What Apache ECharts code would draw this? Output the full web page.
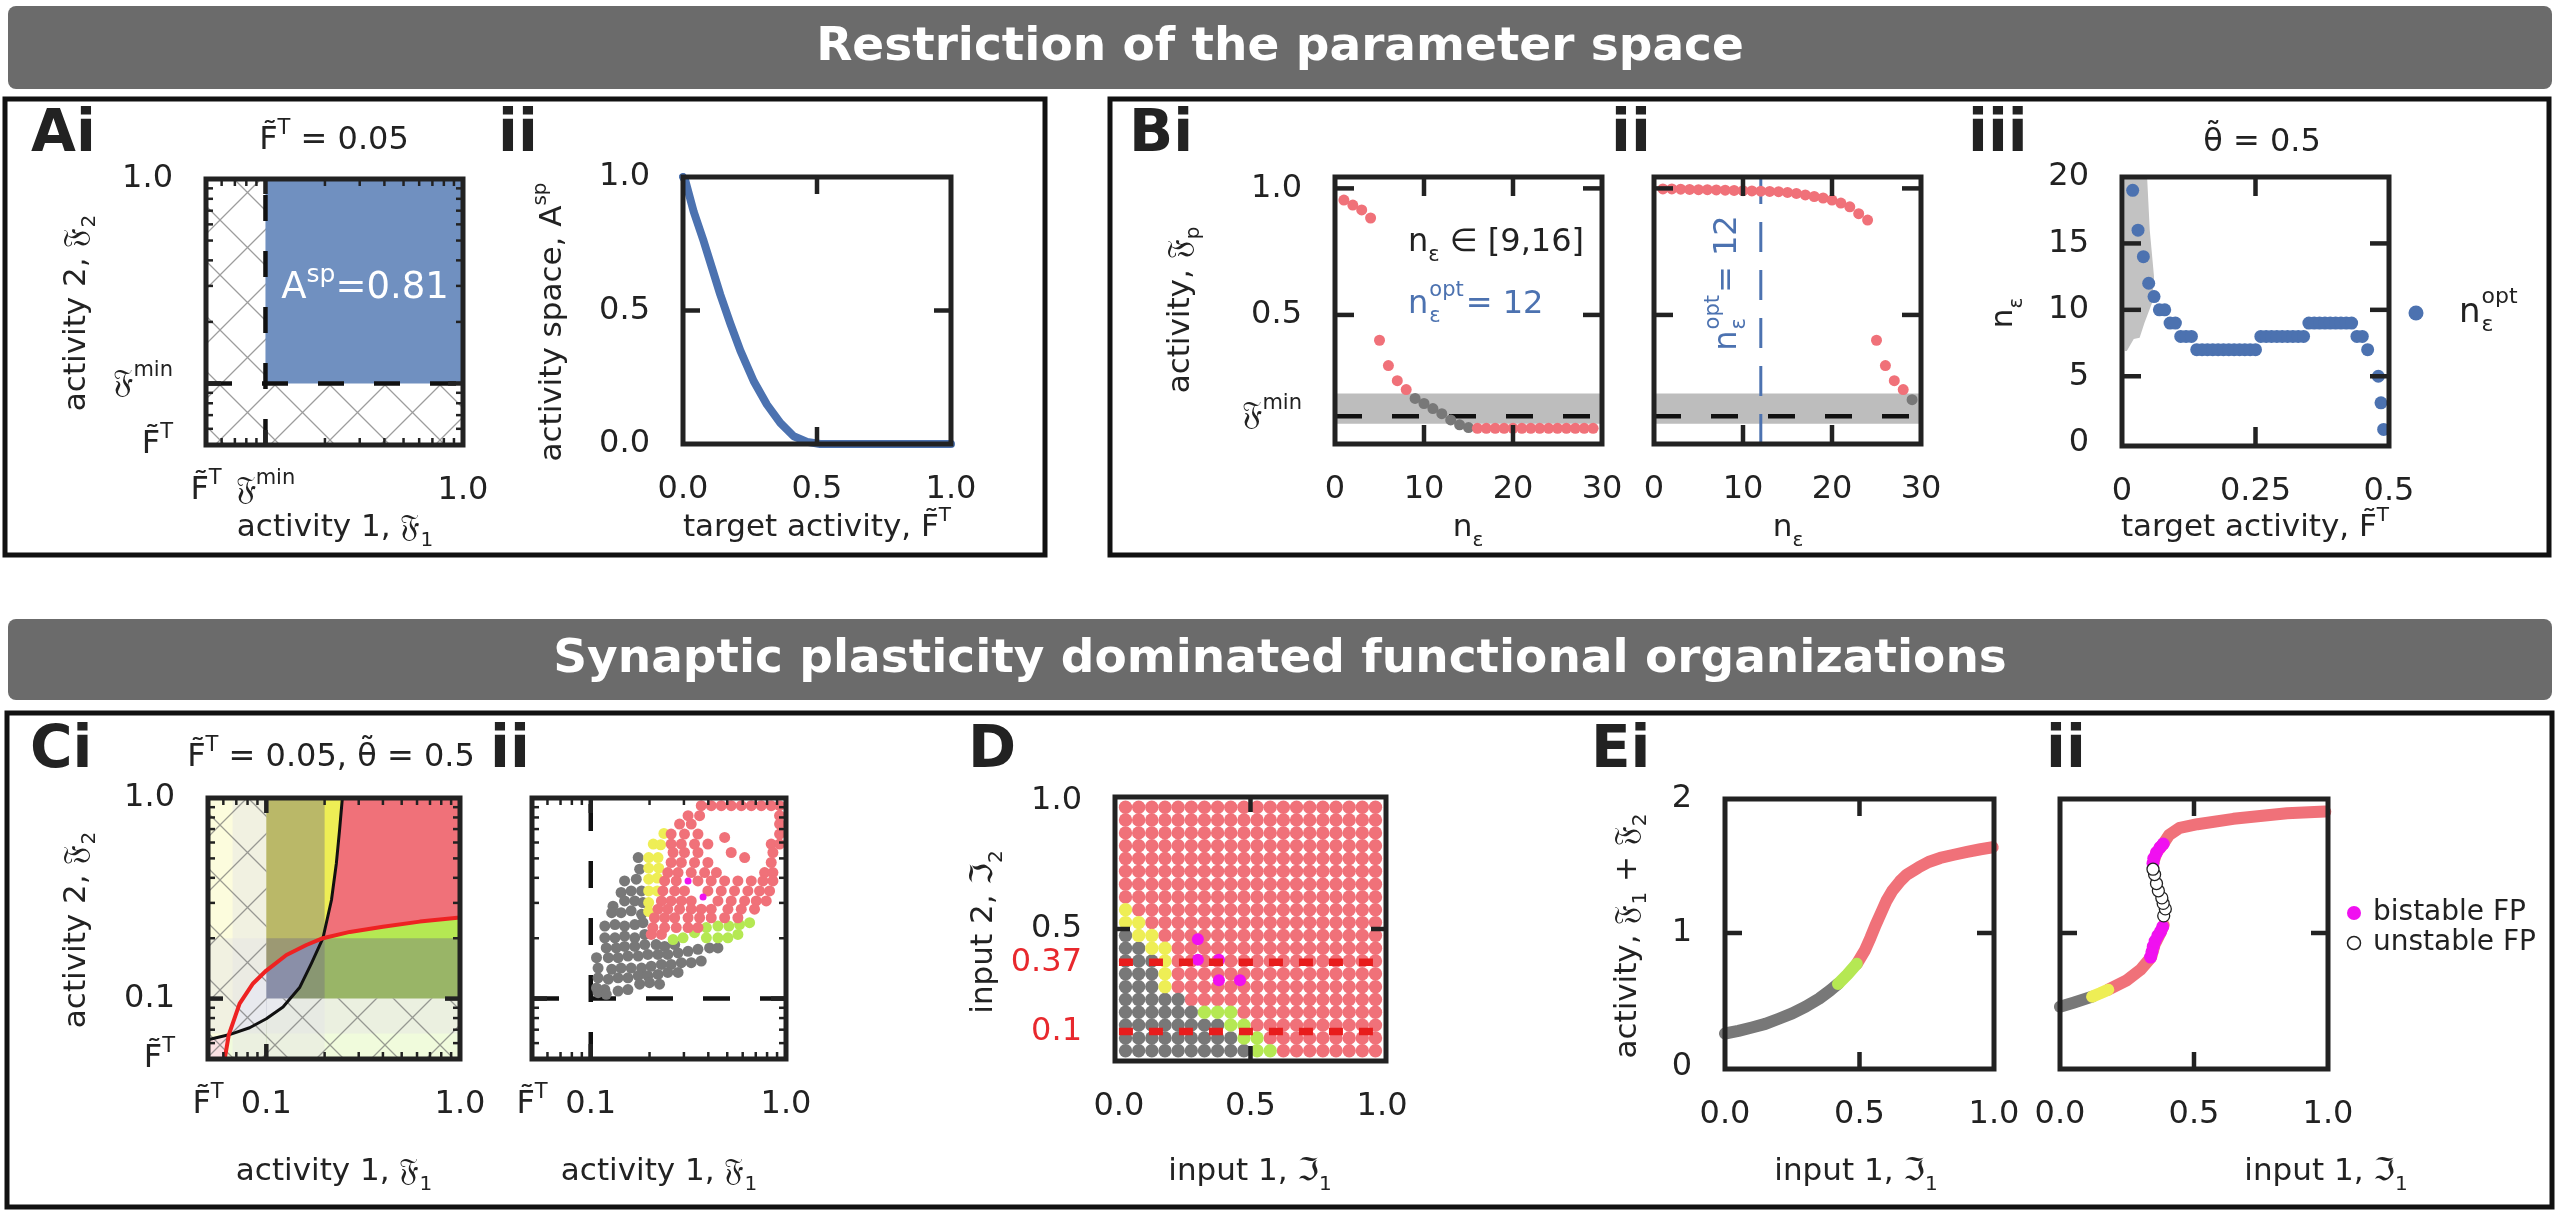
<!DOCTYPE html>
<html><head><meta charset="utf-8"><title>figure</title>
<script src="https://cdn.jsdelivr.net/npm/echarts@6.0.0/dist/echarts.min.js"></script>
<style>html,body{margin:0;padding:0;background:#fff;}#c{width:2560px;height:1214px;}</style>
</head><body><div id="c"></div>
<script>
// ================= DATA =================
const FK = '\u{1D509}', FI = '\u2111', FT = 'F\u0303', THT = '\u03B8\u0303';
const logMinor = [0.06, 0.07, 0.08, 0.09, 0.2, 0.3, 0.4, 0.5, 0.6, 0.7, 0.8, 0.9];
const logMajor = [0.1];

// A i
const aFmin = 0.1;
// A ii : activity space vs target activity
const aiiF = [0, 0.009, 0.04, 0.077, 0.108, 0.139, 0.177, 0.214, 0.264, 0.313, 0.363, 0.413, 0.463, 0.512, 0.75, 1.0];
const aiiA = [1.0, 0.985, 0.87, 0.76, 0.66, 0.56, 0.45, 0.35, 0.235, 0.148, 0.079, 0.029, 0.008, 0.0, 0.0, 0.0];

// B i
const biRedN = [1, 2, 3, 4, 5, 6, 7, 8];
const biRedV = [0.954, 0.934, 0.915, 0.883, 0.40, 0.30, 0.24, 0.205];
const biGrayN = [9, 10, 11, 12, 13, 14, 15];
const biGrayV = [0.17, 0.15, 0.13, 0.11, 0.085, 0.066, 0.055];
const biLowN = [16, 17, 18, 19, 20, 21, 22, 23, 24, 25, 26, 27, 28, 29];
const biLowV = [0.052, 0.052, 0.052, 0.052, 0.052, 0.052, 0.052, 0.052, 0.052, 0.052, 0.052, 0.052, 0.052, 0.052];
const bBand = [0.07, 0.19];
const bFmin = 0.1;
// B ii
const biiRedN = [1, 2, 3, 4, 5, 6, 7, 8, 9, 10, 11, 12, 13, 14, 15, 16, 17, 18, 19, 20, 21, 22, 23, 24];
const biiRedV = [0.998, 0.998, 0.997, 0.996, 0.995, 0.995, 0.994, 0.993, 0.992, 0.991, 0.99, 0.989, 0.988, 0.987, 0.984, 0.98, 0.974, 0.968, 0.962, 0.954, 0.942, 0.927, 0.90, 0.875];
const biiRed2N = [25, 26, 27, 28];
const biiRed2V = [0.40, 0.30, 0.24, 0.205];
const biiGrayN = [29];
const biiGrayV = [0.165];
const biiOpt = 12;
// B iii
const biiiF = [0.02,0.03,0.04,0.05,0.06,0.07,0.08,0.09,0.10,0.11,0.12,0.13,0.14,0.15,0.16,0.17,0.18,0.19,0.20,0.21,0.22,0.23,0.24,0.25,0.26,0.27,0.28,0.29,0.30,0.31,0.32,0.33,0.34,0.35,0.36,0.37,0.38,0.39,0.40,0.41,0.42,0.43,0.44,0.45,0.46,0.48,0.485,0.49];
const biiiN = [19,16,14,12,11,10,10,9,9,8,8,8,7,7,7,7,7,7,7,7,7,7,7,7,8,8,8,8,8,8,8,8,8,9,9,9,9,9,9,9,9,9,8,8,7,5,3,1];
const biiiBandF = [0.005, 0.047, 0.052, 0.06, 0.056, 0.042, 0.033, 0.022, 0.009, 0.005];
const biiiBandN = [20, 20, 16, 12.5, 10.5, 9, 7.9, 7.8, 6.9, 6.9];

// C i : nullclines
const ciBlackX = [0.05, 0.064, 0.082, 0.1, 0.122, 0.149, 0.171, 0.196, 0.217, 0.23, 0.239, 0.247];
const ciBlackY = [0.0624, 0.066, 0.0716, 0.0794, 0.0909, 0.114, 0.15, 0.2, 0.31, 0.473, 0.695, 1.0];
const ciRedX = [0.061, 0.064, 0.0728, 0.0854, 0.1, 0.127, 0.161, 0.196, 0.27, 0.4, 0.62, 1.0];
const ciRedY = [0.05, 0.066, 0.0944, 0.119, 0.138, 0.165, 0.185, 0.2, 0.215, 0.228, 0.242, 0.254];
const ciDark = [[0.067, 0.2, 0.05, 1], [0.05, 1, 0.067, 0.2]];
const ciWash = [[0.05, 0.1, 0.05, 1], [0.1, 1, 0.05, 0.1]];

// C ii : fixed points
const ciiGray = [[0.175,0.505],[0.178,0.442],[0.149,0.386],[0.171,0.394],[0.143,0.338],[0.161,0.344],[0.182,0.344],[0.130,0.289],[0.149,0.307],[0.168,0.307],[0.185,0.301],[0.128,0.268],[0.143,0.268],[0.161,0.274],[0.182,0.263],[0.118,0.230],[0.133,0.234],[0.149,0.230],[0.168,0.234],[0.185,0.239],[0.118,0.201],[0.133,0.201],[0.149,0.205],[0.168,0.201],[0.189,0.209],[0.120,0.179],[0.135,0.179],[0.149,0.182],[0.168,0.182],[0.189,0.186],[0.216,0.186],[0.239,0.182],[0.269,0.186],[0.107,0.160],[0.123,0.160],[0.138,0.160],[0.155,0.163],[0.175,0.163],[0.196,0.166],[0.221,0.166],[0.248,0.166],[0.280,0.169],[0.315,0.172],[0.354,0.176],[0.406,0.179],[0.448,0.179],[0.109,0.142],[0.128,0.140],[0.143,0.142],[0.161,0.142],[0.182,0.142],[0.204,0.145],[0.230,0.148],[0.258,0.148],[0.291,0.151],[0.327,0.151],[0.368,0.154],[0.109,0.127],[0.123,0.125],[0.138,0.127],[0.155,0.127],[0.175,0.130],[0.196,0.130],[0.221,0.132],[0.248,0.135],[0.280,0.135],[0.107,0.113],[0.118,0.111],[0.138,0.109],[0.155,0.111],[0.178,0.118],[0.200,0.120],[0.225,0.118],[0.109,0.107],[0.120,0.105]];
const ciiYel = [[0.237,0.666],[0.209,0.589],[0.228,0.584],[0.198,0.505],[0.221,0.505],[0.198,0.447],[0.223,0.447],[0.198,0.394],[0.219,0.399],[0.198,0.344],[0.219,0.344],[0.198,0.301],[0.198,0.272]];
const ciiLime = [[0.264,0.197],[0.297,0.201],[0.340,0.213],[0.391,0.226],[0.448,0.230],[0.510,0.230],[0.578,0.234],[0.651,0.239],[0.391,0.201],[0.448,0.201],[0.504,0.201],[0.567,0.209]];
const ciiMag = [[0.315,0.386],[0.376,0.321]];
const ciiRed = [
 [0.368,0.916],[0.414,0.916],[0.466,0.916],[0.524,0.916],[0.590,0.916],[0.664,0.916],[0.747,0.916],[0.840,0.916],[0.927,0.916],
 [0.315,0.816],[0.361,0.816],[0.927,0.816],
 [0.285,0.741],[0.327,0.741],[0.927,0.741],
 [0.258,0.661],[0.302,0.661],[0.354,0.661],[0.927,0.661],[0.485,0.636],
 [0.258,0.589],[0.291,0.589],[0.340,0.589],[0.398,0.589],[0.840,0.589],[0.927,0.589],
 [0.264,0.535],[0.302,0.535],[0.354,0.535],[0.857,0.535],[0.524,0.535],[0.614,0.505],
 [0.258,0.477],[0.291,0.477],[0.340,0.477],[0.398,0.477],[0.840,0.477],
 [0.248,0.425],[0.280,0.425],[0.327,0.425],[0.383,0.425],[0.440,0.425],[0.777,0.425],[0.857,0.425],
 [0.239,0.386],[0.274,0.386],[0.354,0.386],[0.414,0.386],[0.485,0.386],[0.567,0.386],[0.664,0.386],[0.762,0.386],[0.857,0.386],
 [0.234,0.344],[0.269,0.344],[0.302,0.344],[0.398,0.344],[0.466,0.344],[0.545,0.344],[0.638,0.344],[0.732,0.344],[0.824,0.344],
 [0.230,0.307],[0.258,0.307],[0.291,0.307],[0.327,0.307],[0.448,0.307],[0.524,0.307],[0.614,0.307],[0.704,0.307],[0.792,0.307],
 [0.221,0.279],[0.248,0.279],[0.285,0.279],[0.327,0.279],[0.368,0.279],[0.414,0.279],[0.504,0.279],[0.590,0.279],[0.690,0.279],
 [0.212,0.253],[0.239,0.253],[0.269,0.253],[0.315,0.253],[0.361,0.253],[0.414,0.253],[0.485,0.253],[0.567,0.253],
 [0.208,0.226],[0.239,0.226],[0.274,0.226],[0.315,0.226],[0.354,0.226],
 [0.204,0.209],[0.230,0.209]
];

// D : input grid classes (row 0 = bottom), k gray, y yellow, g lime, r red
const dRows = [
 'kkkkkkkkkkggrrrrrrrr',
 'kkkkkkkkkggrrrrrrrrr',
 'kkkkkkkkggrrrrrrrrrr',
 'kkkkkkgggrrrrrrrrrrr',
 'kkkkkrrrrrrrrrrrrrrr',
 'kkkyrrrrrrrrrrrrrrrr',
 'kkkyrrrrrrrrrrrrrrrr',
 'kkkyrrrrrrrrrrrrrrrr',
 'kkyyrrrrrrrrrrrrrrrr',
 'kyyrrrrrrrrrrrrrrrrr',
 'yyrrrrrrrrrrrrrrrrrr',
 'yrrrrrrrrrrrrrrrrrrr',
 'rrrrrrrrrrrrrrrrrrrr',
 'rrrrrrrrrrrrrrrrrrrr',
 'rrrrrrrrrrrrrrrrrrrr',
 'rrrrrrrrrrrrrrrrrrrr',
 'rrrrrrrrrrrrrrrrrrrr',
 'rrrrrrrrrrrrrrrrrrrr',
 'rrrrrrrrrrrrrrrrrrrr',
 'rrrrrrrrrrrrrrrrrrrr'
];
const dStep = 0.05;
const dMag = [[0.3,0.46],[0.3,0.38],[0.38,0.38],[0.38,0.3],[0.46,0.3]];
const dCuts = [0.37, 0.1];

// E i
const eiGrayX = [0.0, 0.05, 0.1, 0.15, 0.2, 0.25, 0.3, 0.35, 0.39, 0.42];
const eiGrayY = [0.25, 0.27, 0.295, 0.322, 0.36, 0.40, 0.45, 0.51, 0.57, 0.62];
const eiLimeX = [0.42, 0.455, 0.49];
const eiLimeY = [0.62, 0.69, 0.77];
const eiRedX = [0.49, 0.52, 0.541, 0.56, 0.581, 0.6, 0.622, 0.65, 0.676, 0.72, 0.757, 0.8, 0.851, 0.9, 0.95, 0.995];
const eiRedY = [0.77, 0.87, 0.966, 1.06, 1.154, 1.24, 1.315, 1.385, 1.436, 1.49, 1.53, 1.56, 1.584, 1.605, 1.625, 1.64];
// E ii
const eiiGrayX = [0.0, 0.05, 0.12];
const eiiGrayY = [0.45, 0.48, 0.525];
const eiiYelX = [0.12, 0.15, 0.18];
const eiiYelY = [0.525, 0.55, 0.577];
const eiiRedLoX = [0.18, 0.247, 0.3, 0.34, 0.353, 0.373, 0.387];
const eiiRedLoY = [0.577, 0.644, 0.725, 0.819, 0.913, 0.993, 1.06];
const eiiRedHiX = [0.347, 0.36, 0.385, 0.407, 0.447, 0.513, 0.647, 0.847, 0.99];
const eiiRedHiY = [1.52, 1.6, 1.664, 1.732, 1.785, 1.812, 1.852, 1.893, 1.906];
const eiiMag = [[0.338,0.82],[0.343,0.86],[0.348,0.9],[0.355,0.94],[0.365,0.98],[0.375,1.01],[0.383,1.045],[0.347,1.52],[0.35,1.557],[0.36,1.6],[0.373,1.638],[0.385,1.664]];
const eiiUnst = [[0.387,1.128],[0.393,1.18],[0.385,1.221],[0.38,1.262],[0.367,1.315],[0.36,1.369],[0.353,1.436],[0.347,1.476]];

// ================= STYLE =================
const INK = '#222222';
const FF = "'DejaVu Sans', 'Noto Sans', sans-serif";
const C_BLUE = '#4c72b0', C_RED = '#f07179', C_GRAY = '#787878', C_YEL = '#eeee55', C_LIME = '#b5e853', C_MAG = '#f010f0';

const mctx = document.createElement('canvas').getContext('2d');
function tw(s, fs) { mctx.font = fs + "px 'DejaVu Sans'"; return mctx.measureText(s).width; }

function rich(fs, color) {
  const s = Math.round(fs * 0.66), lh = Math.round(fs * 1.45);
  return {
    b: {fontSize: fs, fontFamily: FF, fill: color, lineHeight: lh},
    p: {fontSize: s, fontFamily: FF, fill: color, lineHeight: s, verticalAlign: 'top'},
    d: {fontSize: s, fontFamily: FF, fill: color, lineHeight: s, verticalAlign: 'bottom'},
    r: {fontSize: fs, fontFamily: FF, fill: '#e8282d', lineHeight: lh}
  };
}
function txt(x, y, text, o) {
  o = o || {};
  const fs = o.fs || 32, color = o.color || INK, al = o.align || 'center', va = o.va || 'middle';
  const e = {type: 'text', x: x, y: y, rotation: o.rot || 0,
    style: {text: text, rich: rich(fs, color), fontSize: fs, fontFamily: FF, fontWeight: o.fw || 'normal', fill: color,
      align: al, verticalAlign: va, textAlign: al, textVerticalAlign: va}};
  if (o.z != null) e.z = o.z;
  return e;
}
function nopt(x, y, fs, color, suffix, rot, center) {
  const s = Math.round(fs * 0.66);
  const wn = tw('n', fs), wo = tw('opt', s), ws = suffix ? tw(suffix, fs) : 0;
  const total = wn + wo + ws + 3;
  const x0 = center ? -total / 2 : 0;
  const mk = (t, dx, dy, f) => ({type: 'text', x: x0 + dx, y: dy, style: {text: t, fontSize: f, fontFamily: FF, fill: color, align: 'left', verticalAlign: 'middle', textAlign: 'left', textVerticalAlign: 'middle'}});
  const ch = [mk('n', 0, 0, fs), mk('opt', wn + 1, -0.45 * fs, s), mk('\u03B5', wn + 1, 0.36 * fs, s)];
  if (suffix) ch.push(mk(suffix, wn + wo + 3, 0, fs));
  return {type: 'group', x: x, y: y, rotation: rot || 0, z: 100, children: ch};
}
function hatchCanvas() {
  const c = document.createElement('canvas'); c.width = 55; c.height = 55;
  const g = c.getContext('2d'); g.strokeStyle = 'rgba(105,105,105,0.65)'; g.lineWidth = 1.3;
  g.beginPath(); g.moveTo(-5, -5); g.lineTo(60, 60); g.moveTo(60, -5); g.lineTo(-5, 60); g.stroke();
  return c;
}
const HATCH = {image: hatchCanvas(), repeat: 'repeat'};

// ================= BUILD =================
const grids = [], xAxes = [], yAxes = [], series = [];
function addGrid(box, xa, ya) {
  const i = grids.length;
  grids.push({left: box[0], top: box[1], width: box[2], height: box[3]});
  xAxes.push(Object.assign({gridIndex: i, show: false, splitLine: {show: false}}, xa));
  yAxes.push(Object.assign({gridIndex: i, show: false, splitLine: {show: false}}, ya));
  return i;
}
const LOG = {type: 'log', logBase: 10, min: 0.05, max: 1};
function lin(a, b) { return {type: 'value', min: a, max: b}; }
function zip(xs, ys) { return xs.map((x, k) => [x, ys[k]]); }

function tk(vals, l, w) { return vals.map(v => ({v: v, l: l, w: w})); }
function lb(vals, texts) { return vals.map((v, k) => ({v: v, t: texts[k]})); }

function decor(gi, ref, xt, yt, xl, yl) {
  series.push({
    type: 'custom', xAxisIndex: gi, yAxisIndex: gi, z: 30, silent: true, data: [ref],
    renderItem: function (params, api) {
      const cs = params.coordSys;
      const L = cs.x, Tp = cs.y, Rr = cs.x + cs.width, B = cs.y + cs.height;
      const ch = [];
      const seg = (x1, y1, x2, y2, w) => ch.push({type: 'line', shape: {x1: x1, y1: y1, x2: x2, y2: y2}, style: {stroke: INK, lineWidth: w}});
      xt.forEach(t => { const x = api.coord([t.v, ref[1]])[0]; seg(x, B, x, B - t.l, t.w); seg(x, Tp, x, Tp + t.l, t.w); });
      yt.forEach(t => { const y = api.coord([ref[0], t.v])[1]; seg(L, y, L + t.l, y, t.w); seg(Rr, y, Rr - t.l, y, t.w); });
      ch.push({type: 'rect', shape: {x: L, y: Tp, width: Rr - L, height: B - Tp}, style: {fill: 'none', stroke: INK, lineWidth: 5}});
      xl.forEach(t => { const x = api.coord([t.v, ref[1]])[0]; ch.push(txt(x, B + 46, t.t)); });
      yl.forEach(t => { const y = api.coord([ref[0], t.v])[1]; ch.push(txt(L - 33, y, t.t, {align: 'right'})); });
      return {type: 'group', children: ch};
    }
  });
}
function rects(gi, list, fill, z) {
  series.push({type: 'custom', xAxisIndex: gi, yAxisIndex: gi, z: z, silent: true,
    data: list.map(r => [r[0], r[2]]),
    renderItem: function (params, api) {
      const r = list[params.dataIndex];
      const p0 = api.coord([r[0], r[2]]), p1 = api.coord([r[1], r[3]]);
      return {type: 'rect', shape: {x: Math.min(p0[0], p1[0]), y: Math.min(p0[1], p1[1]), width: Math.abs(p1[0] - p0[0]), height: Math.abs(p1[1] - p0[1])}, style: {fill: fill}};
    }});
}
function polys(gi, list, fills, z) {
  series.push({type: 'custom', xAxisIndex: gi, yAxisIndex: gi, z: z, silent: true,
    data: list.map(p => p[0]),
    renderItem: function (params, api) {
      return {type: 'polygon', shape: {points: list[params.dataIndex].map(v => api.coord(v))}, style: {fill: fills[params.dataIndex]}};
    }});
}
function line(gi, pts, color, width, z, dash) {
  series.push({type: 'line', xAxisIndex: gi, yAxisIndex: gi, data: pts, showSymbol: false, symbol: 'none', silent: true, z: z || 5,
    lineStyle: {color: color, width: width, type: dash || 'solid', cap: dash ? 'butt' : 'round', join: 'round'}});
}
function scat(gi, pts, color, size, z, border) {
  series.push({type: 'scatter', xAxisIndex: gi, yAxisIndex: gi, data: pts, symbolSize: size, silent: true, z: z || 6,
    itemStyle: border ? {color: color, borderColor: border, borderWidth: 1.3, opacity: 1} : {color: color, opacity: 1}});
}

const logTicks = tk(logMinor, 7, 2.5).concat(tk(logMajor, 15, 4.5));
const LDASH = [26, 30];

// ---- A i ----
const gAi = addGrid([206, 179, 257, 266], LOG, LOG);
rects(gAi, [[0.05, 1, 0.05, 1]], HATCH, 2);
rects(gAi, [[aFmin, 1, aFmin, 1]], '#7090c0', 3);
line(gAi, [[aFmin, 0.05], [aFmin, 1]], '#111', 4.5, 8, LDASH);
line(gAi, [[0.05, aFmin], [1, aFmin]], '#111', 4.5, 8, LDASH);
decor(gAi, [0.05, 0.05], logTicks, logTicks,
  lb([0.05, 0.1, 1], ['{b|' + FT + '}{p|T}', '{b|' + FK + '}{p|min}', '{b|1.0}']),
  lb([0.05, 0.1, 1], ['{b|' + FT + '}{p|T}', '{b|' + FK + '}{p|min}', '{b|1.0}']));

// ---- A ii ----
const gAii = addGrid([683, 177, 268, 267], lin(0, 1), lin(0, 1));
line(gAii, zip(aiiF, aiiA), C_BLUE, 8, 5);
decor(gAii, [0, 0], tk([0.5], 17, 4.5), tk([0.5], 17, 4.5), lb([0, 0.5, 1], ['0.0', '0.5', '1.0']), lb([0, 0.5, 1], ['0.0', '0.5', '1.0']));

// ---- B i ----
const gBi = addGrid([1335, 177, 267, 267], lin(0, 30), lin(-0.01, 1.045));
rects(gBi, [[0, 30, bBand[0], bBand[1]]], '#bdbdbd', 2);
line(gBi, [[0, bFmin], [30, bFmin]], '#111', 4.5, 3, [27, 30]);
scat(gBi, zip(biRedN, biRedV), C_RED, 11);
scat(gBi, zip(biGrayN, biGrayV), C_GRAY, 11);
scat(gBi, zip(biLowN, biLowV), C_RED, 11);
decor(gBi, [0, 0], tk([10, 20], 19, 4.5), tk([0.5, 1.0], 19, 4.5), lb([0, 10, 20, 30], ['0', '10', '20', '30']),
  lb([1.0, 0.5, 0.1], ['1.0', '0.5', '{b|' + FK + '}{p|min}']));

// ---- B ii ----
const gBii = addGrid([1654, 177, 267, 267], lin(0, 30), lin(-0.01, 1.045));
rects(gBii, [[0, 30, bBand[0], bBand[1]]], '#bdbdbd', 2);
line(gBii, [[0, bFmin], [30, bFmin]], '#111', 4.5, 3, [27, 30]);
line(gBii, [[biiOpt, -0.01], [biiOpt, 1.045]], C_BLUE, 3, 4, [30, 18]);
scat(gBii, zip(biiRedN, biiRedV), C_RED, 11);
scat(gBii, zip(biiRed2N, biiRed2V), C_RED, 11);
scat(gBii, zip(biiGrayN, biiGrayV), C_GRAY, 11);
decor(gBii, [0, 0], tk([10, 20], 19, 4.5), tk([0.5, 1.0], 19, 4.5), lb([0, 10, 20, 30], ['0', '10', '20', '30']), []);

// ---- B iii ----
const gBiii = addGrid([2122, 177, 267, 269], lin(0, 0.5), lin(-0.25, 20));
polys(gBiii, [zip(biiiBandF, biiiBandN)], ['#c2c2c2'], 2);
scat(gBiii, zip(biiiF, biiiN), C_BLUE, 13);
decor(gBiii, [0, 0], tk([0.25], 19, 4.5), tk([5, 10, 15], 19, 4.5), lb([0, 0.25, 0.5], ['0', '0.25', '0.5']),
  lb([0, 5, 10, 15, 20], ['0', '5', '10', '15', '20']));

// ---- C i ----
const gCi = addGrid([208, 798, 252, 261], LOG, LOG);
const bk = zip(ciBlackX, ciBlackY), rd = zip(ciRedX, ciRedY);
const polyN = bk.slice(1, 8).concat(rd.slice(1, 7).reverse());
const polyY = [bk[0], [0.05, 1]].concat(bk.slice(7).reverse(), rd.slice(1, 7).reverse());
const polyR = bk.slice(7).concat([[1, 1]], rd.slice(7).reverse());
const polyC = [[0.05, 0.05], bk[0], bk[1], rd[0]];
const polyG = [rd[0], [1, 0.05]].concat(rd.slice(7).reverse(), bk.slice(1, 7).reverse());
polys(gCi, [polyG, polyN, polyY, polyR, polyC], [C_LIME, '#b8d0f2', C_YEL, C_RED, C_RED], 1);
rects(gCi, ciDark, 'rgba(115,110,130,0.42)', 2);
rects(gCi, ciWash, 'rgba(255,255,255,0.8)', 3);
rects(gCi, ciWash, HATCH, 4);
line(gCi, bk, '#111', 3, 6);
line(gCi, rd, '#ee2222', 4, 6);
decor(gCi, [0.05, 0.05], logTicks, logTicks,
  lb([0.05, 0.1, 1], ['{b|' + FT + '}{p|T}', '0.1', '1.0']),
  lb([0.05, 0.1, 1], ['{b|' + FT + '}{p|T}', '0.1', '1.0']));

// ---- C ii ----
const gCii = addGrid([532, 798, 254, 261], LOG, LOG);
line(gCii, [[0.1, 0.05], [0.1, 1]], '#111', 4.5, 3, [27, 30]);
line(gCii, [[0.05, 0.1], [1, 0.1]], '#111', 4.5, 3, [27, 30]);
scat(gCii, ciiGray, C_GRAY, 11, 6);
scat(gCii, ciiYel, C_YEL, 11, 7);
scat(gCii, ciiLime, C_LIME, 11, 7);
scat(gCii, ciiRed, C_RED, 11, 8);
scat(gCii, ciiMag, C_MAG, 7, 9);
decor(gCii, [0.05, 0.05], logTicks, logTicks, lb([0.05, 0.1, 1], ['{b|' + FT + '}{p|T}', '0.1', '1.0']), []);

// ---- D ----
const gD = addGrid([1115, 797, 271, 264], lin(-0.015, 1.015), lin(-0.015, 1.015));
const dCls = {k: [], y: [], g: [], r: []};
dRows.forEach((row, j) => row.split('').forEach((c, i) => dCls[c].push([dStep / 2 + dStep * i, dStep / 2 + dStep * j])));
scat(gD, dCls.r, C_RED, 13.4, 3);
scat(gD, dCls.k, C_GRAY, 13.4, 3);
scat(gD, dCls.y, C_YEL, 13.4, 3);
scat(gD, dCls.g, C_LIME, 13.4, 3);
scat(gD, dMag, C_MAG, 12, 4);
dCuts.forEach(v => line(gD, [[0, v], [1, v]], '#e81c1c', 7.5, 12, [14, 16]));
decor(gD, [0, 0], tk([0.5], 15, 4.5), tk([0.5], 15, 4.5), lb([0, 0.5, 1], ['0.0', '0.5', '1.0']),
  lb([1, 0.5, 0.37, 0.1], ['1.0', '0.5', '{r|0.37}', '{r|0.1}']));

// ---- E i ----
const gEi = addGrid([1725, 799, 269, 270], lin(0, 1), lin(-0.015, 2));
line(gEi, zip(eiGrayX, eiGrayY), C_GRAY, 12, 4);
line(gEi, zip(eiRedX, eiRedY), C_RED, 12, 4);
line(gEi, zip(eiLimeX, eiLimeY), C_LIME, 12, 5);
decor(gEi, [0, 0], tk([0.5], 17, 4.5), tk([1], 17, 4.5), lb([0, 0.5, 1], ['0.0', '0.5', '1.0']), lb([0, 1, 2], ['0', '1', '2']));

// ---- E ii ----
const gEii = addGrid([2060, 799, 268, 270], lin(0, 1), lin(-0.015, 2));
line(gEii, zip(eiiGrayX, eiiGrayY), C_GRAY, 12, 4);
line(gEii, zip(eiiRedLoX, eiiRedLoY), C_RED, 12, 4);
line(gEii, zip(eiiRedHiX, eiiRedHiY), C_RED, 12, 4);
line(gEii, zip(eiiYelX, eiiYelY), C_YEL, 12, 5);
scat(gEii, eiiMag, C_MAG, 13, 6);
scat(gEii, eiiUnst, '#ffffff', 12, 7, '#222');
decor(gEii, [0, 0], tk([0.5], 17, 4.5), tk([1], 17, 4.5), lb([0, 0.5, 1], ['0.0', '0.5', '1.0']), []);

// ================= GRAPHIC (frames, headers, labels) =================
const G = [];
G.push({type: 'rect', shape: {x: 8, y: 6, width: 2544, height: 83, r: 8}, style: {fill: '#6b6b6b'}, z: 0});
G.push({type: 'rect', shape: {x: 8, y: 619, width: 2544, height: 81, r: 8}, style: {fill: '#6b6b6b'}, z: 0});
const boxStyle = {fill: 'none', stroke: '#111', lineWidth: 5};
G.push({type: 'rect', shape: {x: 5, y: 99, width: 1040, height: 456}, style: boxStyle, z: 0});
G.push({type: 'rect', shape: {x: 1110, y: 99, width: 1439, height: 456}, style: boxStyle, z: 0});
G.push({type: 'rect', shape: {x: 7, y: 713, width: 2545, height: 494}, style: boxStyle, z: 0});
G.push(txt(1280, 48, 'Restriction of the parameter space', {fs: 47, fw: 'bold', color: '#ffffff', z: 100}));
G.push(txt(1280, 660, 'Synaptic plasticity dominated functional organizations', {fs: 47, fw: 'bold', color: '#ffffff', z: 100}));
// panel letters
[['Ai', 31, 136], ['ii', 498, 136], ['Bi', 1129, 136], ['ii', 1611, 136], ['iii', 1968, 136],
 ['Ci', 30, 752], ['ii', 490, 752], ['D', 968, 752], ['Ei', 1591, 752], ['ii', 2046, 752]]
  .forEach(p => G.push(txt(p[1], p[2], p[0], {fs: 58, fw: 'bold', align: 'left', z: 100})));
// titles
G.push(txt(334, 141, '{b|' + FT + '}{p|T}{b| = 0.05}', {z: 100}));
G.push(txt(2262, 143, THT + ' = 0.5', {z: 100}));
G.push(txt(331, 758, '{b|' + FT + '}{p|T}{b| = 0.05, ' + THT + ' = 0.5}', {z: 100}));
// axis names
const NF = 31, RV = Math.PI / 2;
G.push(txt(77, 313, '{b|activity 2, ' + FK + '}{d|2}', {fs: NF, rot: RV, z: 100}));
G.push(txt(335, 528, '{b|activity 1, ' + FK + '}{d|1}', {fs: NF, z: 100}));
G.push(txt(553, 322, '{b|activity space, A}{p|sp}', {fs: NF, rot: RV, z: 100}));
G.push(txt(817, 528, '{b|target activity, ' + FT + '}{p|T}', {fs: NF, z: 100}));
G.push(txt(1181, 310, '{b|activity, ' + FK + '}{d|p}', {fs: NF, rot: RV, z: 100}));
G.push(txt(1468, 528, '{b|n}{d|\u03B5}', {fs: NF, z: 100}));
G.push(txt(1788, 528, '{b|n}{d|\u03B5}', {fs: NF, z: 100}));
G.push(txt(2004, 313, '{b|n}{d|\u03B5}', {fs: NF, rot: RV, z: 100}));
G.push(txt(2255, 528, '{b|target activity, ' + FT + '}{p|T}', {fs: NF, z: 100}));
G.push(txt(77, 930, '{b|activity 2, ' + FK + '}{d|2}', {fs: NF, rot: RV, z: 100}));
G.push(txt(334, 1172, '{b|activity 1, ' + FK + '}{d|1}', {fs: NF, z: 100}));
G.push(txt(659, 1172, '{b|activity 1, ' + FK + '}{d|1}', {fs: NF, z: 100}));
G.push(txt(984, 932, '{b|input 2, ' + FI + '}{d|2}', {fs: NF, rot: RV, z: 100}));
G.push(txt(1250, 1172, '{b|input 1, ' + FI + '}{d|1}', {fs: NF, z: 100}));
G.push(txt(1628, 936, '{b|activity, ' + FK + '}{d|1}{b| + ' + FK + '}{d|2}', {fs: NF, rot: RV, z: 100}));
G.push(txt(1856, 1172, '{b|input 1, ' + FI + '}{d|1}', {fs: NF, z: 100}));
G.push(txt(2326, 1172, '{b|input 1, ' + FI + '}{d|1}', {fs: NF, z: 100}));
// in-plot texts
G.push(txt(365, 288, '{w|A}{ws|sp}{w|=0.81}', {fs: 36, color: '#ffffff', z: 100}));
G[G.length - 1].style.rich.w = {fontSize: 37, fontFamily: FF, fill: '#fff', lineHeight: 50};
G[G.length - 1].style.rich.ws = {fontSize: 25, fontFamily: FF, fill: '#fff', lineHeight: 25, verticalAlign: 'top'};
G.push(txt(1408, 243, '{b|n}{d|\u03B5}{b| \u2208 [9,16]}', {align: 'left', z: 100}));
G.push(nopt(1408, 305, 32, C_BLUE, '= 12', 0, false));
G.push(nopt(1728, 283, 32, C_BLUE, '= 12', RV, true));
// legends
G.push({type: 'circle', shape: {cx: 2416, cy: 313, r: 7.5}, style: {fill: C_BLUE}, z: 100});
G.push(nopt(2459, 313, 34, INK, '', 0, false));
G.push({type: 'circle', shape: {cx: 2354, cy: 913, r: 7}, style: {fill: C_MAG}, z: 100});
G.push(txt(2373, 913, 'bistable FP', {fs: 28, align: 'left', z: 100}));
G.push({type: 'circle', shape: {cx: 2354, cy: 943, r: 6.5}, style: {fill: '#fff', stroke: '#222', lineWidth: 1.5}, z: 100});
G.push(txt(2373, 943, 'unstable FP', {fs: 28, align: 'left', z: 100}));

const chart = echarts.init(document.getElementById('c'), null, {renderer: 'canvas', width: 2560, height: 1214});
chart.setOption({
  animation: false, backgroundColor: '#ffffff',
  grid: grids, xAxis: xAxes, yAxis: yAxes, series: series,
  graphic: {elements: G}
});
</script></body></html>
